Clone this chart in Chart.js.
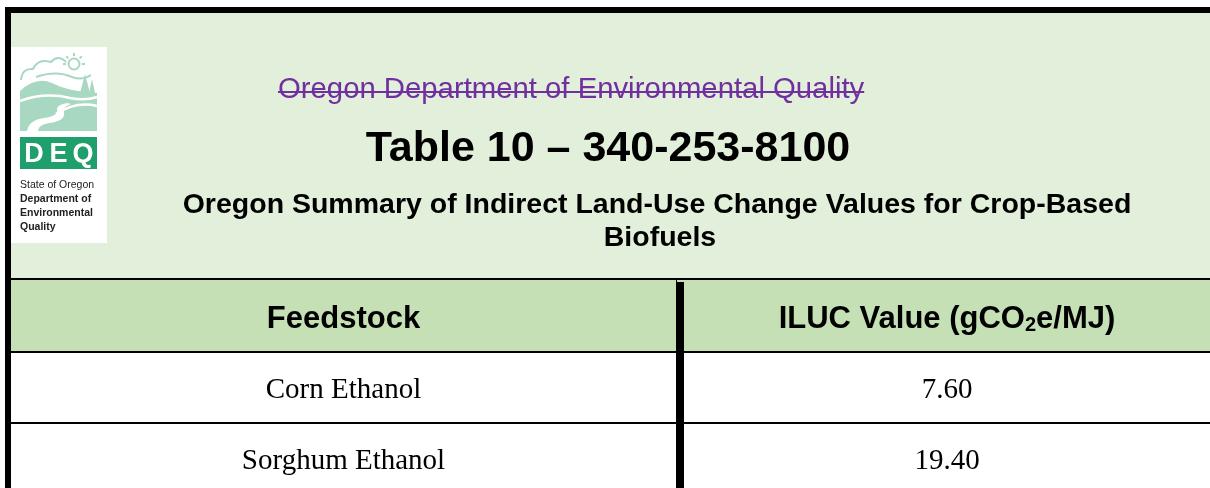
<!DOCTYPE html>
<html>
<head>
<meta charset="utf-8">
<script src="https://cdn.jsdelivr.net/npm/chart.js@4/dist/chart.umd.min.js"></script>
<style>
  html, body { margin: 0; padding: 0; background: #fff; overflow: hidden; }
  #tbl { display: block; }
</style>
</head>
<body>
<canvas id="tbl" width="1210" height="500"></canvas>
<script>
// table content
const agencyLine = "Oregon Department of Environmental Quality";
const tableTitle = "Table 10 \u2013 340-253-8100";
const subtitleLines = ["Oregon Summary of Indirect Land-Use Change Values for Crop-Based", "Biofuels"];
const colHeaders = ["Feedstock", "ILUC Value (gCO\u2082e/MJ)"];
const feedstocks = ["Corn Ethanol", "Sorghum Ethanol"];
const ilucValues = [7.60, 19.40];
const logoLines = ["State of Oregon", "Department of", "Environmental", "Quality"];

// colours
const bandGreen = "#e2efda";
const headGreen = "#c5e0b4";
const purple = "#7030a0";
const mint = "#a9d8c2";
const deqGreen = "#1f9f6b";

const splitX = 680; // column divider centre

function drawLogo(ctx) {
    ctx.save();
    ctx.fillStyle = "#fff";
    ctx.fillRect(11, 47, 96, 196);

    // clouds + sun
    ctx.strokeStyle = mint;
    ctx.lineWidth = 2;
    ctx.beginPath();
    ctx.moveTo(21, 80);
    ctx.quadraticCurveTo(22, 68, 33, 69);
    ctx.quadraticCurveTo(38, 58, 51, 62);
    ctx.quadraticCurveTo(58, 54, 66, 62);
    ctx.stroke();
    ctx.beginPath();
    ctx.arc(74, 64, 5.5, 0, Math.PI * 2);
    ctx.stroke();
    for (let a = 0; a < 8; a++) {
        let t = a * Math.PI / 4 - Math.PI;
        if (Math.sin(t) > 0.3) continue;
        ctx.beginPath();
        ctx.moveTo(74 + Math.cos(t) * 8, 64 + Math.sin(t) * 8);
        ctx.lineTo(74 + Math.cos(t) * 11, 64 + Math.sin(t) * 11);
        ctx.stroke();
    }
    ctx.beginPath();
    ctx.moveTo(36, 77);
    ctx.quadraticCurveTo(56, 70, 72, 77);
    ctx.quadraticCurveTo(82, 81, 91, 75);
    ctx.stroke();

    // hills
    ctx.fillStyle = mint;
    ctx.beginPath();
    ctx.moveTo(20, 91);
    ctx.quadraticCurveTo(36, 76, 52, 83);
    ctx.quadraticCurveTo(64, 89, 78, 91);
    ctx.lineTo(97, 93);
    ctx.lineTo(97, 131);
    ctx.lineTo(20, 131);
    ctx.closePath();
    ctx.fill();

    // trees
    [[85, 74, 5.5], [92, 79, 4.5]].forEach(t => {
        ctx.beginPath();
        ctx.moveTo(t[0], t[1]);
        ctx.lineTo(t[0] - t[2], t[1] + 21);
        ctx.lineTo(t[0] + t[2], t[1] + 21);
        ctx.closePath();
        ctx.fill();
    });

    // white ridges and river
    ctx.strokeStyle = "#fff";
    ctx.lineWidth = 2.5;
    ctx.beginPath();
    ctx.moveTo(20, 101);
    ctx.quadraticCurveTo(45, 92, 70, 98);
    ctx.quadraticCurveTo(85, 101, 97, 97);
    ctx.stroke();
    ctx.beginPath();
    ctx.moveTo(56, 114);
    ctx.quadraticCurveTo(76, 101, 97, 106);
    ctx.stroke();
    ctx.fillStyle = "#fff";
    ctx.beginPath();
    ctx.moveTo(27, 131);
    ctx.quadraticCurveTo(29, 120, 44, 118);
    ctx.quadraticCurveTo(58, 116, 57, 110);
    ctx.quadraticCurveTo(56, 105, 67, 103);
    ctx.lineTo(71, 104);
    ctx.quadraticCurveTo(62, 107, 64, 112);
    ctx.quadraticCurveTo(66, 121, 49, 123);
    ctx.quadraticCurveTo(38, 125, 38, 131);
    ctx.closePath();
    ctx.fill();

    // DEQ box
    ctx.fillStyle = deqGreen;
    ctx.fillRect(20, 137, 77, 32);
    ctx.fillStyle = "#fff";
    ctx.font = "bold 27px 'Liberation Sans', Arial, sans-serif";
    ctx.textAlign = "center";
    ctx.textBaseline = "alphabetic";
    ["D", "E", "Q"].forEach((ch, i) => ctx.fillText(ch, 34 + i * 24.5, 162));

    // agency name under the box
    ctx.fillStyle = "#222";
    ctx.textAlign = "left";
    const base = [188, 202, 216, 230];
    logoLines.forEach((s, i) => {
        ctx.font = (i === 0 ? "" : "bold ") + "10.5px 'Liberation Sans', Arial, sans-serif";
        ctx.fillText(s, 20, base[i]);
    });
    ctx.restore();
}

function drawHeaderText(ctx, text, cx, baseline) {
    // draws text centred at cx, with the subscript 2 set smaller
    const big = "bold 31px 'Liberation Sans', Arial, sans-serif";
    const small = "bold 20px 'Liberation Sans', Arial, sans-serif";
    const parts = text.split("\u2082");
    let w = 0;
    parts.forEach((p, i) => {
        ctx.font = big;
        w += ctx.measureText(p).width;
        if (i < parts.length - 1) { ctx.font = small; w += ctx.measureText("2").width; }
    });
    let x = cx - w / 2;
    ctx.textAlign = "left";
    parts.forEach((p, i) => {
        ctx.font = big;
        ctx.fillText(p, x, baseline);
        x += ctx.measureText(p).width;
        if (i < parts.length - 1) {
            ctx.font = small;
            ctx.fillText("2", x, baseline + 3);
            x += ctx.measureText("2").width;
        }
    });
}

const tablePlugin = {
    id: "tableDraw",
    beforeDraw(chart) {
        const ctx = chart.ctx;
        const yS = chart.scales.y;
        const area = chart.chartArea;
        const W = chart.width;
        const half = (yS.getPixelForValue(1) - yS.getPixelForValue(0)) / 2;

        ctx.save();
        ctx.fillStyle = "#fff";
        ctx.fillRect(0, 0, W, chart.height);

        // title band
        ctx.fillStyle = bandGreen;
        ctx.fillRect(11, 13, W - 11, area.top - 13);

        // rows
        const labels = chart.data.labels;
        labels.forEach((lab, i) => {
            const c = yS.getPixelForValue(i);
            ctx.fillStyle = i === 0 ? headGreen : "#fff";
            ctx.fillRect(11, c - half, W - 11, half * 2);
        });

        // frame and grid lines
        ctx.fillStyle = "#000";
        ctx.fillRect(5, 7, W - 5, 6);
        ctx.fillRect(5, 7, 6, chart.height);
        ctx.fillRect(11, area.top - 2, W - 11, 2);
        labels.forEach((lab, i) => {
            if (i === 0) return;
            const top = yS.getPixelForValue(i) - half;
            ctx.fillRect(11, top, W - 11, 2);
        });
        ctx.fillRect(splitX - 4, area.top + 2, 8, chart.height);
        ctx.fillRect(splitX - 4, area.top - 2, 1, 4);

        // titles
        ctx.textBaseline = "alphabetic";
        ctx.fillStyle = purple;
        ctx.font = "29.3px 'Liberation Sans', Arial, sans-serif";
        ctx.textAlign = "left";
        ctx.fillText(agencyLine, 278, 98);
        const aw = ctx.measureText(agencyLine).width;
        ctx.fillRect(278, 91, aw, 2);

        ctx.fillStyle = "#000";
        ctx.textAlign = "center";
        ctx.font = "bold 43px 'Liberation Sans', Arial, sans-serif";
        ctx.fillText(tableTitle, 608, 161);
        ctx.font = "bold 28.5px 'Liberation Sans', Arial, sans-serif";
        ctx.fillText(subtitleLines[0], 657, 213);
        ctx.fillText(subtitleLines[1], 660, 246);

        // column headers
        const leftC = (11 + splitX - 4) / 2;
        const rightC = (splitX + 4 + W) / 2;
        const hy = yS.getPixelForValue(0) + 12;
        drawHeaderText(ctx, colHeaders[0], leftC, hy);
        drawHeaderText(ctx, colHeaders[1], rightC, hy);

        // body cells
        ctx.textAlign = "center";
        ctx.font = "29px 'Liberation Serif', 'Times New Roman', serif";
        feedstocks.forEach((f, i) => {
            const by = yS.getPixelForValue(i + 1) + 11;
            ctx.fillText(f, leftC, by);
            ctx.fillText(ilucValues[i].toFixed(2), rightC, by);
        });

        drawLogo(ctx);
        ctx.restore();
    }
};

new Chart(document.getElementById("tbl"), {
    type: "bar",
    data: {
        labels: [colHeaders[0]].concat(feedstocks),
        datasets: [{
            data: [null].concat(ilucValues),
            backgroundColor: "rgba(0,0,0,0)",
            borderWidth: 0
        }]
    },
    options: {
        indexAxis: "y",
        responsive: false,
        devicePixelRatio: 1,
        animation: false,
        layout: { padding: { top: 280, left: 11, right: 0, bottom: 7 } },
        plugins: { legend: { display: false }, tooltip: { enabled: false } },
        scales: {
            x: { display: false, min: 0, max: 25 },
            y: { display: false }
        }
    },
    plugins: [tablePlugin]
});
</script>
</body>
</html>
